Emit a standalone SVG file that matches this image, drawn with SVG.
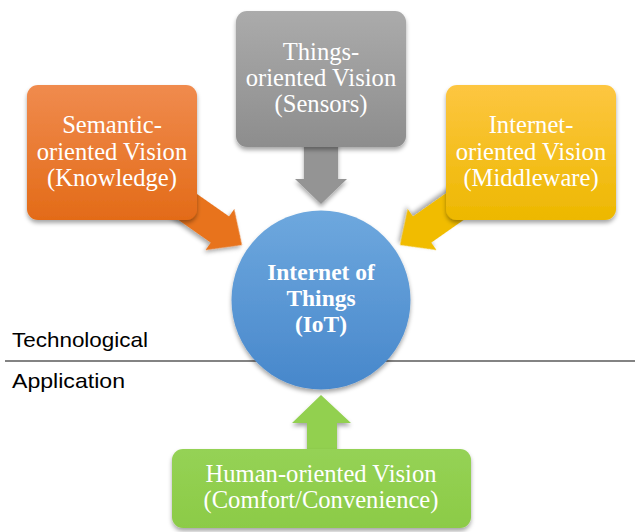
<svg xmlns="http://www.w3.org/2000/svg" width="635" height="532" viewBox="0 0 635 532">
<defs>
<style>
.lbl{font-family:"Liberation Serif","Times New Roman",serif;font-size:24.6px;fill:#ffffff;text-anchor:middle}
.core{font-family:"Liberation Serif","Times New Roman",serif;font-size:23.5px;font-weight:bold;fill:#ffffff;text-anchor:middle}
.side{font-family:"Liberation Sans",Arial,sans-serif;font-size:21px;fill:#000000}
</style>
<linearGradient id="gGray" x1="0" y1="0" x2="0" y2="1"><stop offset="0" stop-color="#ababab"/><stop offset="1" stop-color="#8d8d8d"/></linearGradient>
<linearGradient id="gOrange" x1="0" y1="0" x2="0" y2="1"><stop offset="0" stop-color="#f08b4e"/><stop offset="1" stop-color="#e36b18"/></linearGradient>
<linearGradient id="gYellow" x1="0" y1="0" x2="0" y2="1"><stop offset="0" stop-color="#fdc641"/><stop offset="1" stop-color="#edb800"/></linearGradient>
<linearGradient id="gGreen" x1="0" y1="0" x2="0" y2="1"><stop offset="0" stop-color="#95d255"/><stop offset="1" stop-color="#8ccb47"/></linearGradient>
<linearGradient id="gBlue" x1="0" y1="0" x2="0" y2="1"><stop offset="0" stop-color="#6ea8de"/><stop offset="1" stop-color="#4787cb"/></linearGradient>
<filter id="sh" x="-20%" y="-20%" width="140%" height="150%"><feDropShadow dx="0" dy="3" stdDeviation="2.2" flood-color="#000" flood-opacity="0.35"/></filter>
<path id="diagArrow" d="M-90,-16 L-27,-16 L-27,-25 L0,0 L-27,25 L-27,16 L-90,16 Z"/>
</defs>
<rect width="635" height="532" fill="#ffffff"/>
<line x1="5" y1="361" x2="635" y2="361" stroke="#5a5a5a" stroke-width="1.6"/>
<text class="side" x="12" y="347" textLength="136" lengthAdjust="spacingAndGlyphs">Technological</text>
<text class="side" x="12" y="388" textLength="113" lengthAdjust="spacingAndGlyphs">Application</text>
<g id="connectors">
<polygon id="arrow-things" points="304,140 338,140 338,179 347,179 321,204 295,179 304,179" fill="#949494" filter="url(#sh)"/>
<use id="arrow-semantic" href="#diagArrow" fill="#e8731f" transform="translate(242,245) rotate(35)" filter="url(#sh)"/>
<use id="arrow-internet" href="#diagArrow" fill="#f1bc00" transform="translate(400,245) rotate(145)" filter="url(#sh)"/>
<polygon id="arrow-human" points="307,455 337,455 337,423 351,423 321,395 292,423 307,423" fill="#92d050" filter="url(#sh)"/>
</g>
<g id="node-things">
<rect x="236" y="11" width="170" height="136" rx="11" fill="url(#gGray)" filter="url(#sh)"/>
<text class="lbl" x="321" y="60">Things-</text>
<text class="lbl" x="321" y="86">oriented Vision</text>
<text class="lbl" x="321" y="112">(Sensors)</text>
</g>
<g id="node-semantic">
<rect x="27" y="85" width="170" height="135" rx="11" fill="url(#gOrange)" filter="url(#sh)"/>
<text class="lbl" x="112" y="133">Semantic-</text>
<text class="lbl" x="112" y="160">oriented Vision</text>
<text class="lbl" x="112" y="186">(Knowledge)</text>
</g>
<g id="node-internet">
<rect x="446" y="85" width="170" height="135" rx="11" fill="url(#gYellow)" filter="url(#sh)"/>
<text class="lbl" x="531" y="133">Internet-</text>
<text class="lbl" x="531" y="160">oriented Vision</text>
<text class="lbl" x="531" y="186">(Middleware)</text>
</g>
<g id="node-iot">
<circle cx="321" cy="300" r="89.5" fill="url(#gBlue)" filter="url(#sh)"/>
<text class="core" x="321" y="280">Internet of</text>
<text class="core" x="321" y="306">Things</text>
<text class="core" x="321" y="332">(IoT)</text>
</g>
<g id="node-human">
<rect x="172" y="449" width="299" height="79" rx="11" fill="url(#gGreen)" filter="url(#sh)"/>
<text class="lbl" x="321" y="482">Human-oriented Vision</text>
<text class="lbl" x="321" y="508">(Comfort/Convenience)</text>
</g>
</svg>
